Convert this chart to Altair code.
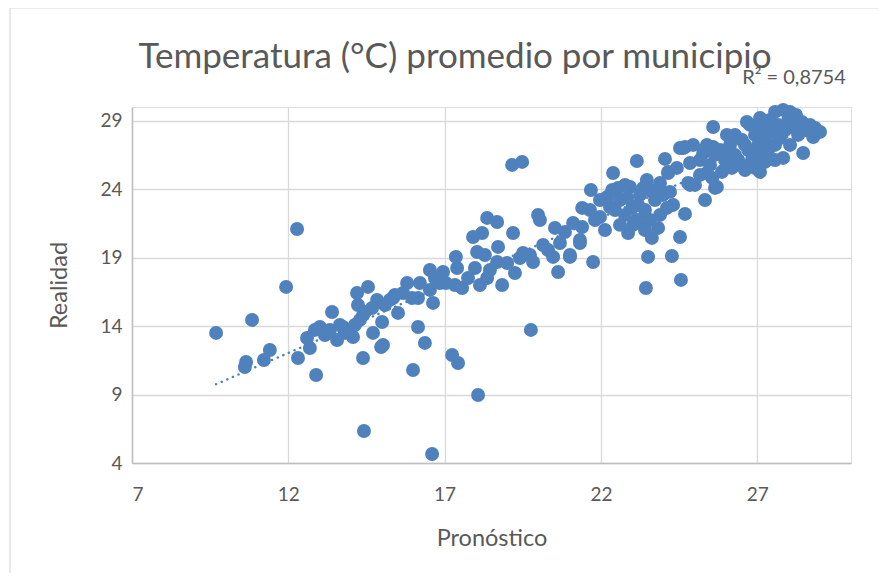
import altair as alt
import pandas as pd

# Pronóstico (x) and Realidad (y)
pronostico = [
    9.69, 10.84, 10.61, 10.65, 11.22, 11.41, 11.93, 12.28, 12.31, 12.89,
    12.60, 12.69, 12.85, 13.01, 13.40, 13.56, 13.75, 14.07, 14.20, 14.55,
    14.23, 14.39, 14.84, 15.00, 14.71, 14.39, 14.97, 15.35, 15.51, 15.80,
    16.21, 16.15, 16.15, 16.37, 15.99, 14.42, 16.60, 18.07, 17.24, 17.43,
    19.76, 13.17, 13.33, 13.81, 13.65, 14.13, 14.29, 14.45, 14.68, 15.09,
    15.25, 15.41, 15.67, 15.96, 16.53, 16.69, 16.85, 17.04, 17.33, 16.95,
    16.53, 17.40, 17.36, 18.36, 18.68, 17.91, 18.20, 19.19, 19.99, 20.05,
    21.40, 21.11, 20.53, 21.33, 18.71, 18.04, 18.29, 18.13, 18.36, 18.84,
    18.68, 19.00, 19.25, 19.51, 19.83, 20.15, 20.47, 20.63, 21.01, 21.75,
    21.33, 16.63, 15.03, 17.56, 17.75, 17.97, 18.45, 19.41, 19.73, 20.31,
    20.69, 20.85, 19.16, 19.48, 21.68, 22.39, 23.15, 24.05, 24.15, 24.53,
    21.40, 21.01, 23.51, 24.27, 23.44, 24.56, 24.53, 24.69, 23.63, 22.87,
    23.25, 21.97, 22.29, 22.20, 22.55, 22.93, 23.47, 23.89, 24.21, 24.31,
    24.11, 23.19, 23.15, 23.57, 22.84, 23.67, 24.15, 24.43, 24.79, 25.33,
    24.85, 24.63, 25.39, 25.71, 25.27, 25.59, 22.61, 22.45, 22.77, 23.25,
    23.41, 23.73, 23.89, 23.03, 23.41, 23.83, 22.61, 22.13, 21.81, 21.97,
    21.65, 23.99, 23.57, 23.00, 23.35, 22.77, 22.36, 27.83, 25.59, 26.67,
    26.03, 28.79, 28.47, 27.83, 24.69, 24.95, 25.39, 25.65, 24.85, 25.81,
    25.97, 26.13, 26.29, 26.45, 26.51, 26.71, 26.83, 26.93, 27.03, 27.09,
    27.15, 27.25, 27.35, 27.41, 27.47, 27.57, 27.67, 27.73, 27.89, 27.99,
    28.05, 28.21, 28.31, 28.43, 28.56, 28.69, 25.17, 25.49, 25.65, 25.33,
    25.17, 25.01, 25.56, 25.87, 26.19, 26.61, 26.93, 27.25, 27.57, 27.09,
    26.29, 26.77, 27.09, 27.57, 28.05, 28.24, 28.85, 29.01, 26.39, 26.61,
    26.07,
]
realidad = [
    13.50, 14.45, 11.01, 11.38, 11.52, 12.25, 16.86, 21.09, 11.67, 10.43,
    13.13, 12.40, 13.72, 13.93, 15.03, 12.98, 13.93, 13.20, 16.42, 16.86,
    15.54, 14.81, 15.91, 14.30, 13.50, 11.67, 12.47, 16.05, 14.96, 17.15,
    17.15, 16.05, 13.93, 12.77, 10.79, 6.34, 4.66, 8.97, 11.89, 11.30,
    13.72, 13.35, 13.72, 13.50, 14.08, 14.08, 14.45, 15.03, 15.32, 15.54,
    15.91, 16.27, 16.42, 16.05, 16.64, 17.51, 17.15, 17.15, 17.00, 17.95,
    18.10, 18.24, 19.05, 21.90, 21.60, 20.51, 20.80, 20.80, 22.12, 21.75,
    22.63, 21.53, 21.17, 20.29, 19.78, 19.41, 19.19, 17.00, 17.51, 17.00,
    18.68, 18.61, 17.88, 19.34, 18.68, 19.92, 19.05, 17.95, 19.19, 18.68,
    20.07, 15.69, 12.62, 16.78, 17.51, 18.24, 18.10, 18.97, 19.19, 19.56,
    20.07, 20.87, 25.77, 25.99, 23.94, 25.18, 26.06, 26.21, 25.18, 27.01,
    21.24, 19.05, 19.05, 19.12, 16.78, 17.37, 20.51, 22.19, 20.44, 20.80,
    21.75, 21.97, 22.70, 23.43, 24.09, 24.16, 24.67, 24.45, 23.80, 22.85,
    22.63, 22.85, 21.75, 21.75, 23.36, 23.80, 25.26, 25.55, 24.45, 23.21,
    25.91, 27.01, 25.18, 24.16, 26.64, 27.08, 23.21, 22.48, 22.12, 23.58,
    22.48, 23.21, 22.12, 21.39, 21.02, 21.17, 21.39, 21.02, 21.75, 23.21,
    22.48, 23.58, 23.94, 22.63, 24.09, 24.31, 23.94, 29.79, 28.54, 28.91,
    27.96, 27.81, 26.64, 26.28, 27.08, 27.23, 27.23, 24.09, 24.31, 26.86,
    26.13, 27.23, 26.50, 25.77, 27.59, 26.86, 26.13, 27.96, 27.23, 26.50,
    28.47, 27.59, 26.86, 29.05, 28.18, 27.23, 28.69, 27.74, 28.32, 29.05,
    27.23, 28.47, 27.96, 28.91, 28.32, 28.69, 26.13, 25.77, 26.50, 26.86,
    25.04, 24.31, 24.82, 25.26, 25.55, 25.40, 25.55, 25.99, 26.13, 25.26,
    27.96, 28.69, 29.20, 29.64, 29.64, 29.42, 28.47, 28.18, 26.13, 27.23,
    26.86,
]

x_ticks = [7, 12, 17, 22, 27]
y_ticks = [4, 9, 14, 19, 24, 29]
title_text = "Temperatura (°C) promedio por municipio"
r2_text = "R² = 0,8754"

n = min(len(pronostico), len(realidad))
df = pd.DataFrame({"Pronóstico": pronostico[:n], "Realidad": realidad[:n]})

FONT = "Lato"
TXT = "#595959"
BLUE = "#4F81BD"

xscale = alt.Scale(domain=[7, 30], nice=False, zero=False)
yscale = alt.Scale(domain=[4, 30], nice=False, zero=False)

xaxis = alt.Axis(values=x_ticks, title="Pronóstico", grid=True, ticks=False,
                 labelPadding=22, titlePadding=22, labelFontSize=19, titleFontSize=23.5,
                 domainColor="#BFBFBF", domainWidth=1.5, gridColor="#D9D9D9", gridWidth=1.3,
                 labelColor=TXT, titleColor=TXT, labelFont=FONT, titleFont=FONT,
                 titleFontWeight="normal")
yaxis = alt.Axis(values=y_ticks, title="Realidad", grid=True, ticks=False,
                 labelPadding=10, titlePadding=28, labelFontSize=19, titleFontSize=23.5,
                 domainColor="#BFBFBF", domainWidth=1.5, gridColor="#D9D9D9", gridWidth=1.3,
                 labelColor=TXT, titleColor=TXT, labelFont=FONT, titleFont=FONT,
                 titleFontWeight="normal")

base = alt.Chart(df)

points = base.mark_circle(size=195, opacity=1, color=BLUE).encode(
    x=alt.X("Pronóstico:Q", scale=xscale, axis=xaxis),
    y=alt.Y("Realidad:Q", scale=yscale, axis=yaxis),
)

trend = base.transform_regression("Pronóstico", "Realidad", method="linear").mark_line(
    color=BLUE, strokeWidth=2.5, strokeDash=[0.1, 6], strokeCap="round"
).encode(
    x=alt.X("Pronóstico:Q", scale=xscale),
    y=alt.Y("Realidad:Q", scale=yscale),
)

one = alt.Chart(alt.Data(values=[{"label": r2_text, "title": title_text}]))
r2 = one.mark_text(font=FONT, fontSize=20, color=TXT, align="center", baseline="middle").encode(
    x=alt.value(662), y=alt.value(-29), text="label:N"
)
title = one.mark_text(font=FONT, fontSize=35, color=TXT, align="center", baseline="middle").encode(
    x=alt.value(323), y=alt.value(-50), text="title:N"
)

border_left = one.mark_rule(color="#D9D9D9", strokeWidth=1.2).encode(
    x=alt.value(-122), y=alt.value(-99), y2=alt.value(470)
)
border_top = one.mark_rule(color="#D9D9D9", strokeWidth=1.2).encode(
    x=alt.value(-122), x2=alt.value(760), y=alt.value(-99)
)

chart = alt.layer(border_left, border_top, points, trend, r2, title).properties(
    width=719,
    height=356,
    autosize=alt.AutoSizeParams(type="none"),
    padding={"left": 124, "top": 99, "right": 28, "bottom": 110},
).configure_view(stroke=None).configure(background="white")

chart.save("out.html", embed_options={"renderer": "svg", "actions": False})
